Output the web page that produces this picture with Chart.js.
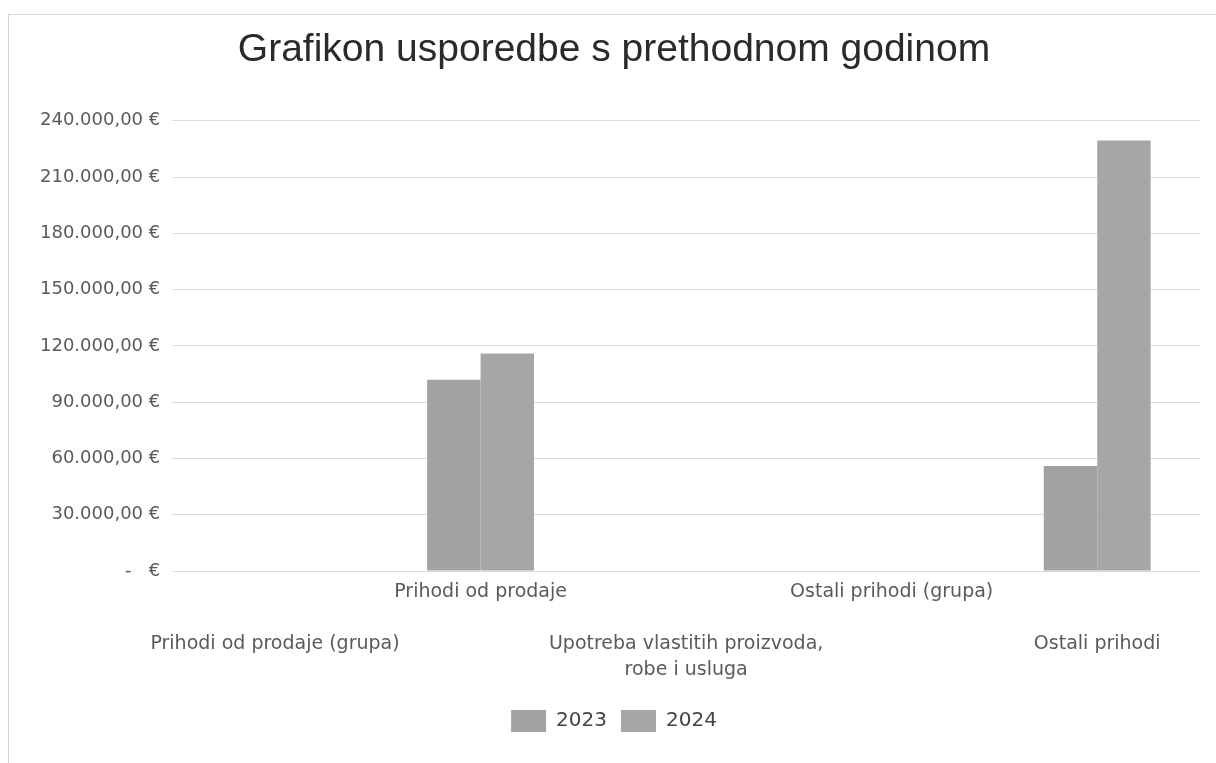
<!doctype html>
<html>

<head>
	<title>Grafikon usporedbe</title>
	<script src="https://cdn.jsdelivr.net/npm/chart.js@4.4.1/dist/chart.umd.min.js"></script>
	<style>
		body {
			margin: 0;
			background: #fff;
		}
		#frame {
			position: absolute;
			left: 8px;
			top: 14px;
			width: 1220px;
			height: 770px;
			border: 1px solid #d6d6d6;
		}
		canvas {
			position: absolute;
			left: 0;
			top: 0;
		}
	</style>
</head>

<body>
	<div id="frame"></div>
	<canvas id="canvas" width="1216" height="763"></canvas>
	<script>
		var categories = [
			['Prihodi od prodaje (grupa)'],
			['Prihodi od prodaje'],
			['Upotreba vlastitih proizvoda,', 'robe i usluga'],
			['Ostali prihodi (grupa)'],
			['Ostali prihodi']
		];
		var values2023 = [0, 102000, 0, 0, 56000];
		var values2024 = [0, 116000, 0, 0, 229500];
		var yTicks = [0, 30000, 60000, 90000, 120000, 150000, 180000, 210000, 240000];

		var formatEuro = function(v) {
			if (v === 0) {
				return '-   €';
			}
			var s = Math.round(v).toString().replace(/\B(?=(\d{3})+(?!\d))/g, '.');
			return s + ',00 €';
		};

		var config = {
			type: 'bar',
			data: {
				labels: categories,
				datasets: [{
					label: '2023',
					data: values2023,
					backgroundColor: '#a2a2a2'
				}, {
					label: '2024',
					data: values2024,
					backgroundColor: '#a6a6a6'
				}]
			},
			options: {
				responsive: false,
				animation: false,
				categoryPercentage: 0.52,
				barPercentage: 1.0,
				layout: {
					padding: { left: 28, right: 16, top: 10, bottom: 21 }
				},
				plugins: {
					title: {
						display: true,
						text: 'Grafikon usporedbe s prethodnom godinom',
						color: '#2a2a2a',
						font: { family: 'Liberation Sans', size: 39, weight: 'normal' },
						padding: { top: 17, bottom: 47 }
					},
					legend: {
						position: 'bottom',
						labels: {
							color: '#444',
							font: { family: 'DejaVu Sans', size: 20 },
							boxWidth: 35,
							boxHeight: 22,
							padding: 14
						}
					},
					tooltip: { enabled: false }
				},
				scales: {
					x: {
						grid: { display: false },
						border: { display: false },
						afterFit: function(axis) {
							axis.height += 13;
						},
						ticks: {
							autoSkip: false,
							maxRotation: 0,
							color: '#5a5a5a',
							font: { family: 'DejaVu Sans', size: 19, lineHeight: '26px' },
							padding: 0,
							callback: function(value, index) {
								var lbl = categories[index];
								if (index % 2 === 0) {
									return ['', ''].concat(lbl);
								}
								return lbl;
							}
						}
					},
					y: {
						min: 0,
						max: 240000,
						afterBuildTicks: function(axis) {
							axis.ticks = yTicks.map(function(v) { return { value: v }; });
						},
						grid: { color: '#dcdcdc', drawTicks: false },
						border: { display: false },
						ticks: {
							color: '#5a5a5a',
							font: { family: 'DejaVu Sans', size: 18 },
							padding: 12,
							callback: function(value) {
								return formatEuro(value);
							}
						}
					}
				}
			}
		};

		window.onload = function() {
			window.myBar = new Chart(document.getElementById('canvas'), config);
		};
	</script>
</body>

</html>
